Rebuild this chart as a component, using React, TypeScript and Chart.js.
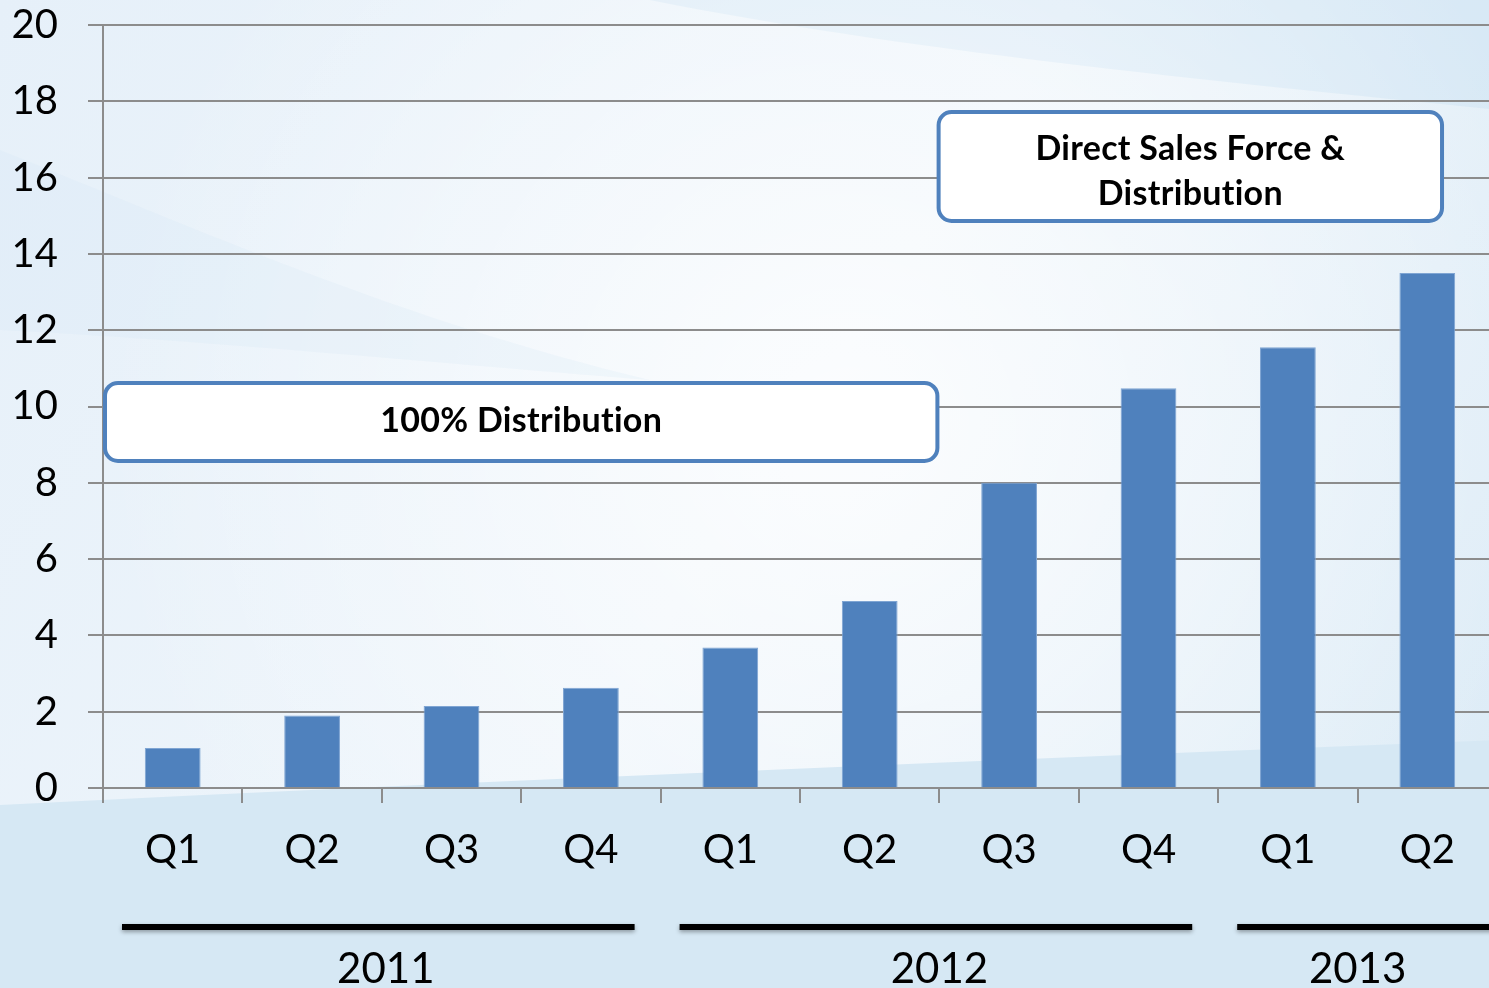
import React, { useEffect, useRef } from "react";
import { Chart, registerables } from "chart.js";

Chart.register(...registerables);

const quarters = ["Q1", "Q2", "Q3", "Q4", "Q1", "Q2", "Q3", "Q4", "Q1", "Q2"];
const values = [1.05, 1.9, 2.15, 2.63, 3.68, 4.9, 8.0, 10.48, 11.55, 13.5];
const years = ["2011", "2012", "2013"];
const yearStart = [0, 4, 8];
const yearEnd = [3, 7, 9];
const boxTexts = [["100% Distribution"], ["Direct Sales Force &", "Distribution"]];

const FONT = "Lato, 'Open Sans', sans-serif";
const BLUE = "#4f81bd";
const GRID = "#8c8c8c";

const bgPlugin = {
  id: "bg",
  beforeDraw(chart: any) {
    const ctx = chart.ctx;
    const w = chart.width;
    const h = chart.height;
    ctx.save();
    const g = ctx.createLinearGradient(0, 0, w, h);
    g.addColorStop(0, "#e6f0f9");
    g.addColorStop(0.5, "#eef5fb");
    g.addColorStop(1, "#d8e9f5");
    ctx.fillStyle = g;
    ctx.fillRect(0, 0, w, h);
    // darker top-right swoosh
    ctx.fillStyle = "rgba(200,224,241,0.45)";
    ctx.beginPath();
    ctx.moveTo(650, 0);
    ctx.bezierCurveTo(900, 50, 1200, 80, w, 110);
    ctx.lineTo(w, 0);
    ctx.closePath();
    ctx.fill();
    // light central swoosh
    const r = ctx.createRadialGradient(850, 430, 50, 850, 430, 750);
    r.addColorStop(0, "rgba(255,255,255,0.75)");
    r.addColorStop(1, "rgba(255,255,255,0)");
    ctx.fillStyle = r;
    ctx.fillRect(0, 0, w, h);
    // left soft band
    ctx.fillStyle = "rgba(205,228,243,0.18)";
    ctx.beginPath();
    ctx.moveTo(0, 150);
    ctx.bezierCurveTo(200, 230, 400, 320, 650, 380);
    ctx.bezierCurveTo(400, 360, 200, 340, 0, 330);
    ctx.closePath();
    ctx.fill();
    // bottom region
    ctx.fillStyle = "#d6e8f4";
    ctx.beginPath();
    ctx.moveTo(0, 805);
    ctx.bezierCurveTo(500, 780, 1000, 760, w, 740);
    ctx.lineTo(w, h);
    ctx.lineTo(0, h);
    ctx.closePath();
    ctx.fill();
    ctx.restore();
  },
};

const groupsPlugin = {
  id: "groups",
  afterDraw(chart: any) {
    const ctx = chart.ctx;
    const x = chart.scales.x;
    const cw = x.getPixelForValue(1) - x.getPixelForValue(0);
    ctx.save();
    years.forEach((yr, i) => {
      const left = x.getPixelForValue(yearStart[i]) - cw / 2;
      const right = x.getPixelForValue(yearEnd[i]) + cw / 2;
      const last = i === years.length - 1;
      ctx.save();
      ctx.shadowColor = "rgba(0,0,0,0.35)";
      ctx.shadowBlur = 4;
      ctx.shadowOffsetY = 2;
      ctx.strokeStyle = "#000";
      ctx.lineWidth = 6;
      ctx.beginPath();
      ctx.moveTo(left + 19, 927);
      ctx.lineTo(last ? chart.width : right - 26, 927);
      ctx.stroke();
      ctx.restore();
      ctx.fillStyle = "#000";
      ctx.font = `42px ${FONT}`;
      ctx.textAlign = "center";
      ctx.textBaseline = "middle";
      ctx.fillText(yr, (left + right) / 2 + (i === 0 ? 4 : 0), 969);
    });
    ctx.restore();
  },
};

const boxes = [
  { from: -0.5, to: 5.5, lo: 8.52, hi: 10.67, shift: -1 },
  { from: 5.48, to: 9.12, lo: 14.81, hi: 17.77, shift: 5 },
];

const boxPlugin = {
  id: "boxes",
  afterDatasetsDraw(chart: any) {
    const ctx = chart.ctx;
    const xs = chart.scales.x;
    const ys = chart.scales.y;
    const cw = xs.getPixelForValue(1) - xs.getPixelForValue(0);
    const px = (v: number) => xs.getPixelForValue(0) + v * cw;
    ctx.save();
    boxes.forEach((b, i) => {
      const x1 = px(b.from);
      const x2 = px(b.to);
      const y1 = ys.getPixelForValue(b.hi);
      const y2 = ys.getPixelForValue(b.lo);
      ctx.beginPath();
      ctx.roundRect(x1 + 2, y1 + 2, x2 - x1 - 4, y2 - y1 - 4, 13);
      ctx.fillStyle = "#fff";
      ctx.fill();
      ctx.lineWidth = 4;
      ctx.strokeStyle = BLUE;
      ctx.stroke();
      const lines = boxTexts[i];
      ctx.fillStyle = "#000";
      ctx.font = `bold 34px ${FONT}`;
      try {
        (ctx as any).letterSpacing = "0.3px";
      } catch (e) {}
      ctx.textAlign = "center";
      ctx.textBaseline = "middle";
      const lh = 45;
      const cy = (y1 + y2) / 2 - ((lines.length - 1) * lh) / 2 + b.shift;
      lines.forEach((t, k) => ctx.fillText(t, (x1 + x2) / 2, cy + k * lh));
      try {
        (ctx as any).letterSpacing = "0px";
      } catch (e) {}
    });
    ctx.restore();
  },
};

export default function App() {
  const ref = useRef<HTMLCanvasElement>(null);
  useEffect(() => {
    const chart = new Chart(ref.current!, {
      type: "bar",
      data: {
        labels: quarters,
        datasets: [
          {
            data: values,
            backgroundColor: BLUE,
            borderColor: "#7fa5d3",
            borderWidth: 1,
            barPercentage: 0.4,
            categoryPercentage: 1,
          },
        ],
      },
      options: {
        animation: false,
        responsive: false,
        layout: { padding: { top: 25, right: 3, left: 0, bottom: 0 } },
        plugins: { legend: { display: false }, tooltip: { enabled: false } },
        scales: {
          x: {
            afterFit: (s: any) => {
              s.height = 200;
              s.paddingLeft = 0;
              s.paddingRight = 0;
              s.paddingTop = 0;
              s.paddingBottom = 0;
            },
            grid: {
              offset: true,
              drawOnChartArea: false,
              drawTicks: true,
              tickLength: 15,
              color: GRID,
              lineWidth: 2,
            },
            border: { display: true, color: GRID, width: 2 },
            ticks: {
              color: "#000",
              font: { family: FONT, size: 40 },
              padding: 23,
              maxRotation: 0,
            },
          },
          y: {
            min: 0,
            max: 20,
            afterFit: (s: any) => {
              s.width = 103;
              s.paddingTop = 0;
              s.paddingBottom = 0;
              s.paddingLeft = 0;
              s.paddingRight = 0;
            },
            grid: { color: GRID, lineWidth: 2, tickLength: 15, drawTicks: true },
            border: { display: true, color: GRID, width: 2 },
            ticks: {
              stepSize: 2,
              color: "#000",
              font: { family: FONT, size: 40 },
              padding: 30,
            },
          },
        },
      },
      plugins: [bgPlugin, boxPlugin, groupsPlugin],
    });
    return () => chart.destroy();
  }, []);
  return (
    <div style={{ position: "fixed", left: 0, top: 0, width: 1489, height: 988, overflow: "hidden" }}>
      <canvas ref={ref} width={1500} height={988} style={{ display: "block" }} />
    </div>
  );
}
